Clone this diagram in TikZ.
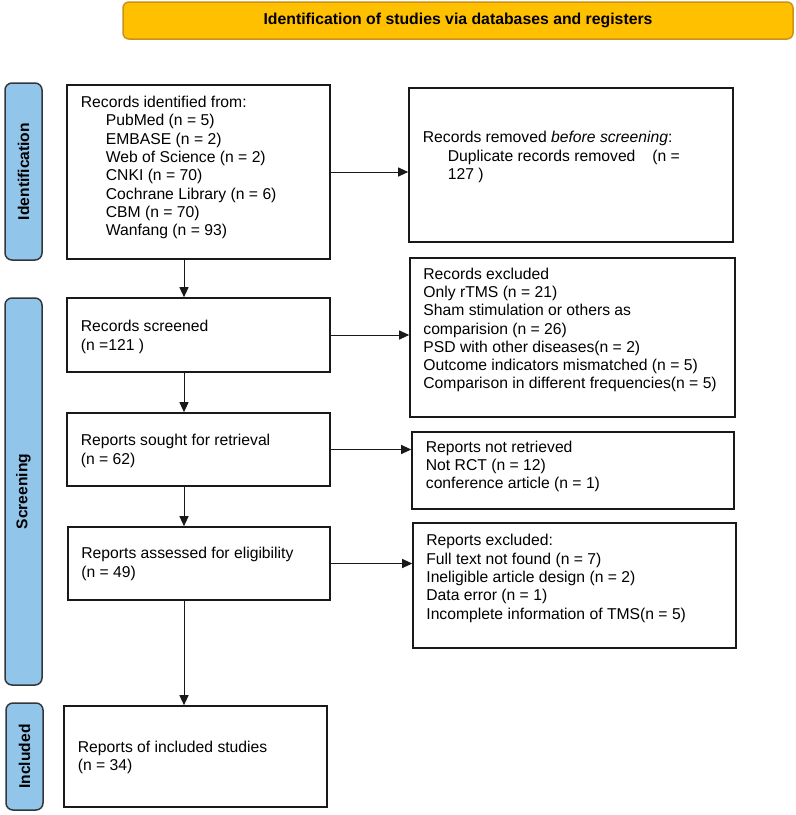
\documentclass[tikz,border=0pt]{standalone}
\usepackage{fontspec}
\setmainfont{Liberation Sans}
\usetikzlibrary{arrows.meta}
\definecolor{titlefill}{RGB}{255,192,0}
\definecolor{titledraw}{RGB}{205,145,20}
\definecolor{sidefill}{RGB}{146,197,234}
\definecolor{sidedraw}{RGB}{50,55,60}
\definecolor{boxdraw}{RGB}{25,25,25}
\begin{document}
\begin{tikzpicture}[x=1pt,y=-1pt,
  box/.style={draw=boxdraw, line width=1.6pt, inner sep=0pt},
  txt/.style={inner sep=0pt, align=left, anchor=west, font=\fontsize{15.7}{18.3}\selectfont},
  side/.style={draw=sidedraw, fill=sidefill, line width=1.5pt, rounded corners=7pt, rotate=90,
    inner sep=0pt, minimum height=37pt, font=\bfseries\fontsize{15.6}{18}\selectfont},
  titlebox/.style={draw=titledraw, fill=titlefill, line width=1.5pt, rounded corners=6pt,
    inner sep=0pt, font=\bfseries\fontsize{15.8}{18}\selectfont},
  arr/.style={-{Triangle[length=10pt,width=9pt]}, line width=1pt, draw=boxdraw}
]
\useasboundingbox (0,0) rectangle (796,815);

% title
\node[titlebox, minimum width=670pt, minimum height=37pt] (title) at (458,20.5)
  {Identification of studies via databases and registers};

% side labels
\node[side, minimum width=177pt] (sideid) at (23.5,171.5) {Identification};
\node[side, minimum width=387pt] (sidescr) at (23.5,491.5) {Screening};
\node[side, minimum width=107pt] (sideinc) at (24.5,756.5) {Included};

% boxes
\node[box, minimum width=263pt, minimum height=174pt] (b1) at (198.5,172) {};
\node[txt] (b1t) at ([xshift=14.5pt,yshift=4.5pt]b1.west)
  {Records identified from:\\
   \hspace*{25pt}PubMed (n = 5)\\
   \hspace*{25pt}EMBASE (n = 2)\\
   \hspace*{25pt}Web of Science (n = 2)\\
   \hspace*{25pt}CNKI (n = 70)\\
   \hspace*{25pt}Cochrane Library (n = 6)\\
   \hspace*{25pt}CBM (n = 70)\\
   \hspace*{25pt}Wanfang (n = 93)};

\node[box, minimum width=324pt, minimum height=154pt] (rem) at (571,165) {};
\node[txt] (remt) at ([xshift=14.5pt,yshift=8pt]rem.west)
  {Records removed \textit{before screening}:\\
   \hspace*{25pt}Duplicate records removed\hspace{12.5pt} (n =\\
   \hspace*{25pt}127 )};

\node[box, minimum width=263pt, minimum height=74pt] (scr) at (198.5,335) {};
\node[txt] (scrt) at ([xshift=14.5pt,yshift=-2pt]scr.west)
  {Records screened\\(n =121 )};

\node[box, minimum width=325pt, minimum height=159pt] (exc) at (572.5,337.5) {};
\node[txt] (exct) at ([xshift=14pt,yshift=7.5pt]exc.west)
  {Records excluded\\
   Only rTMS (n = 21)\\
   Sham stimulation or others as\\
   comparision (n = 26)\\
   PSD with other diseases(n = 2)\\
   Outcome indicators mismatched (n = 5)\\
   Comparison in different frequencies(n = 5)};

\node[box, minimum width=263pt, minimum height=73pt] (sou) at (198.5,449.5) {};
\node[txt] (sout) at ([xshift=14.5pt,yshift=-1.5pt]sou.west)
  {Reports sought for retrieval\\(n = 62)};

\node[box, minimum width=322pt, minimum height=77pt] (nret) at (573,470.5) {};
\node[txt] (nrett) at ([xshift=14.5pt,yshift=4pt]nret.west)
  {Reports not retrieved\\
   Not RCT (n = 12)\\
   conference article (n = 1)};

\node[box, minimum width=262pt, minimum height=73pt] (ass) at (199,563.5) {};
\node[txt] (asst) at ([xshift=14pt,yshift=-0.5pt]ass.west)
  {Reports assessed for eligibility\\(n = 49)};

\node[box, minimum width=323pt, minimum height=125pt] (rexc) at (574.5,585.5) {};
\node[txt] (rexct) at ([xshift=14pt,yshift=7pt]rexc.west)
  {Reports excluded:\\
   Full text not found (n = 7)\\
   Ineligible article design (n = 2)\\
   Data error (n = 1)\\
   Incomplete information of TMS(n = 5)};

\node[box, minimum width=263pt, minimum height=101pt] (inc) at (195.5,756.5) {};
\node[txt] (inct) at ([xshift=14.5pt,yshift=-1pt]inc.west)
  {Reports of included studies\\(n = 34)};

% connectors
\draw[arr] (b1.east) -- (b1.east -| rem.west);
\draw[arr] ([xshift=-14.5pt]b1.south) -- ([xshift=-14.5pt]b1.south |- scr.north);
\draw[arr] (scr.east) -- (scr.east -| exc.west);
\draw[arr] ([xshift=-14.5pt]scr.south) -- ([xshift=-14.5pt]scr.south |- sou.north);
\draw[arr] (sou.east) -- (sou.east -| nret.west);
\draw[arr] ([xshift=-14.5pt]sou.south) -- ([xshift=-14.5pt]sou.south |- ass.north);
\draw[arr] (ass.east) -- (ass.east -| rexc.west);
\draw[arr] ([xshift=-14.5pt]sou.south |- ass.south) -- ([xshift=-14.5pt]sou.south |- inc.north);
\end{tikzpicture}
\end{document}
